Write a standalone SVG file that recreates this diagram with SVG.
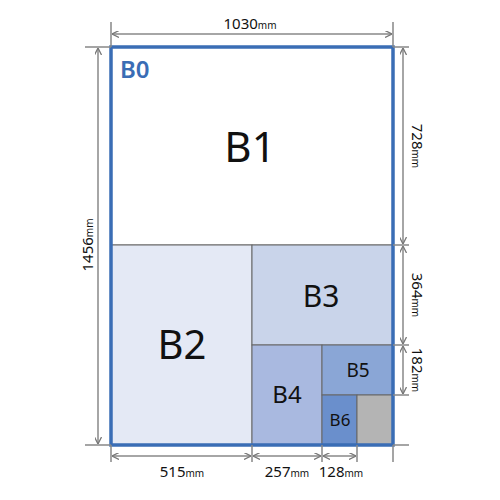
<svg xmlns="http://www.w3.org/2000/svg" width="500" height="500" viewBox="0 0 500 500">
<defs>
<marker id="ar" viewBox="0 0 10 10" refX="10" refY="5" markerWidth="7" markerHeight="7" orient="auto-start-reverse" markerUnits="userSpaceOnUse">
<path d="M0,0 L10,5 L0,10" fill="none" stroke="#777" stroke-width="1.8"/>
</marker>
<style>
.sh{stroke:#666;stroke-width:1}
.lb{font-family:"Noto Sans","Open Sans",sans-serif;fill:#111;text-anchor:middle}
.dim{stroke:#888;stroke-width:1.5;fill:none}
.dl{stroke:#888;stroke-width:1.5;fill:none;marker-start:url(#ar);marker-end:url(#ar)}
.dt{font-family:"Noto Sans","Open Sans",sans-serif;fill:#111;font-size:15px;text-anchor:middle}
.mm{font-size:10px}
</style>
</defs>
<rect width="500" height="500" fill="#fff"/>
<g id="B1"><rect x="111" y="47" width="282" height="198" fill="#fff" class="sh"/><text class="lb" x="250" y="162" font-size="42">B1</text></g>
<g id="B2"><rect x="111" y="245" width="141" height="200" fill="#e4e9f5" class="sh"/><text class="lb" x="182" y="359" font-size="40">B2</text></g>
<g id="B3"><rect x="252" y="245" width="141" height="100" fill="#c9d4ea" class="sh"/><text class="lb" x="321" y="307" font-size="30">B3</text></g>
<g id="B4"><rect x="252" y="345" width="70" height="100" fill="#a9b9e0" class="sh"/><text class="lb" x="287" y="403" font-size="24">B4</text></g>
<g id="B5"><rect x="322" y="345" width="71" height="50" fill="#8aa6d6" class="sh"/><text class="lb" x="358" y="377" font-size="19">B5</text></g>
<g id="B6"><rect x="322" y="395" width="35" height="50" fill="#6a8fcc" class="sh"/><text class="lb" x="340" y="426" font-size="17">B6</text></g>
<g id="rest"><rect x="357" y="395" width="36" height="50" fill="#b4b4b4" class="sh"/></g>
<g id="B0"><rect x="111" y="47" width="282" height="398" fill="none" stroke="#3a6db5" stroke-width="3.5"/><text x="120" y="78" font-family="Noto Sans,Open Sans,sans-serif" font-size="24" font-weight="600" fill="#3a6db5">B0</text></g>
<g id="connectors">
<path class="dim" d="M111,22V47M393,22V47M85,47H111M85,445H111M393,47H409M393,245H409M393,345H409M393,395H409M393,445H409M111,445V462M252,445V462M322,445V462M357,445V462M393,445V462"/>
<line class="dl" x1="112" y1="34" x2="392" y2="34"/>
<line class="dl" x1="98" y1="48" x2="98" y2="444"/>
<line class="dl" x1="403" y1="48" x2="403" y2="244"/>
<line class="dl" x1="403" y1="246" x2="403" y2="344"/>
<line class="dl" x1="403" y1="346" x2="403" y2="394"/>
<line class="dl" x1="112" y1="456" x2="251" y2="456"/>
<line class="dl" x1="253" y1="456" x2="321" y2="456"/>
<line class="dl" x1="323" y1="456" x2="356" y2="456"/>
</g>
<g id="labels">
<text class="dt" x="250" y="29" font-size="16">1030<tspan class="mm">mm</tspan></text>
<text class="dt" transform="translate(93,245) rotate(-90)" font-size="16">1456<tspan class="mm">mm</tspan></text>
<text class="dt" transform="translate(412,146) rotate(90)">728<tspan class="mm">mm</tspan></text>
<text class="dt" transform="translate(412,295) rotate(90)">364<tspan class="mm">mm</tspan></text>
<text class="dt" transform="translate(412,370) rotate(90)">182<tspan class="mm">mm</tspan></text>
<text class="dt" x="182" y="477">515<tspan class="mm">mm</tspan></text>
<text class="dt" x="287" y="477">257<tspan class="mm">mm</tspan></text>
<text class="dt" x="341" y="477">128<tspan class="mm">mm</tspan></text>
</g>
</svg>
